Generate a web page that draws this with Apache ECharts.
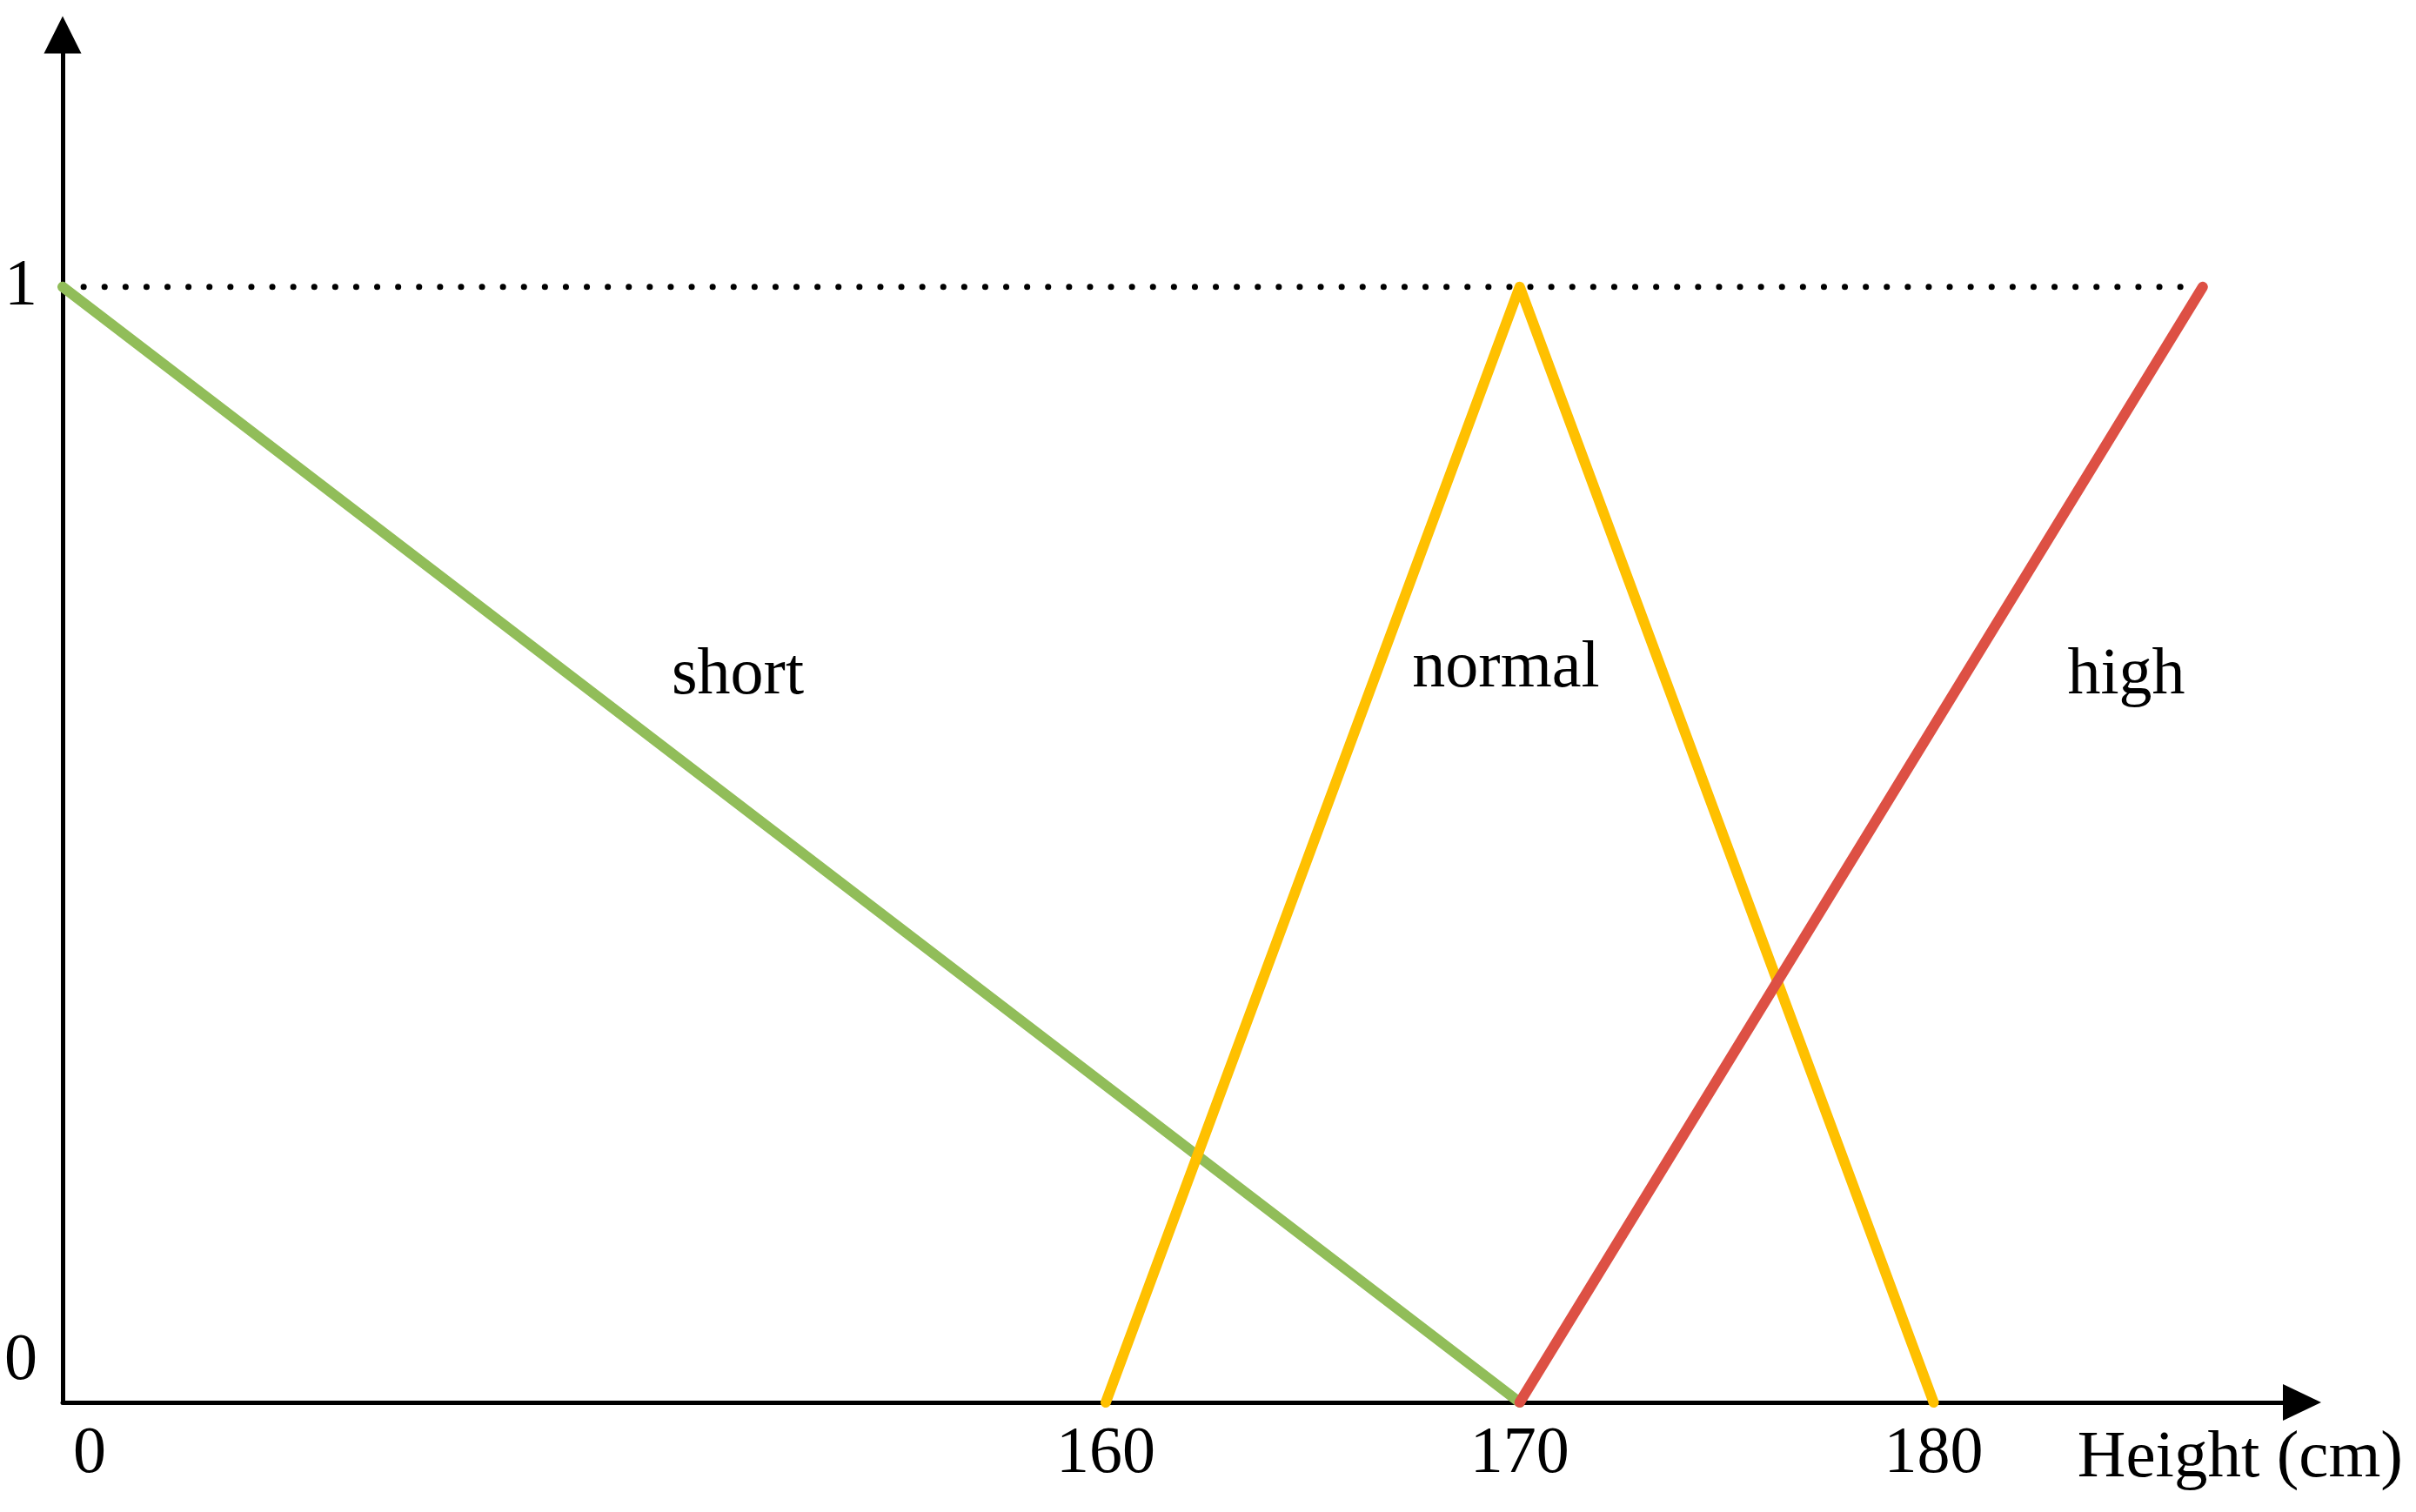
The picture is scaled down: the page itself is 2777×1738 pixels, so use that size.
<!DOCTYPE html>
<html>
<head>
<meta charset="utf-8">
<script src="https://cdn.jsdelivr.net/npm/echarts@6/dist/echarts.min.js"></script>
<style>
  html, body { margin: 0; padding: 0; background: #fff; }
  #chart { width: 2777px; height: 1738px; }
</style>
</head>
<body>
<div id="chart"></div>
<script>
// membership functions, height (cm) -> degree
const shortX = [0, 170];
const shortY = [1, 0];
const normalX = [160, 170, 180];
const normalY = [0, 1, 0];
const highX = [170, 186.5];
const highY = [0, 1];
// dotted guide at degree 1
const topX = [0, 186.5];
const topY = [1, 1];

const xTicks = [0, 160, 170, 180];
const yTicks = [0, 1];
const setNames = ['short', 'normal', 'high'];

const FONT = "'Liberation Serif', 'Times New Roman', serif";

function pairs(xs, ys) {
  return xs.map((x, i) => [x, ys[i]]);
}

let myChart = echarts.init(document.getElementById('chart'), null, { renderer: 'canvas' });

// label positions (pixels) for the set names
const namePos = [[848, 777], [1731, 769], [2444, 777]];

let option = {
  backgroundColor: '#fff',
  animation: false,
  grid: {
    left: 72,
    right: 131,
    top: 40,
    bottom: 126,
    outerBoundsMode: 'none'
  },
  xAxis: {
    type: 'value',
    min: 0,
    max: 188.9,
    // 0..160 is squeezed, like in the sketch
    breaks: [{ start: 2, end: 158, gap: 21.2 }],
    breakArea: { show: false },
    axisLine: {
      show: true,
      onZero: false,
      breakLine: false,
      symbol: ['none', 'triangle'],
      symbolSize: [42, 44],
      lineStyle: { color: '#000', width: 5 }
    },
    axisTick: { show: false },
    splitLine: { show: false },
    axisLabel: {
      customValues: xTicks,
      margin: 22,
      color: '#000',
      fontFamily: FONT,
      fontSize: 76,
      formatter: function (v) {
        // the 0 sits a bit right of the corner
        return v === 0 ? '{shift|0}' : String(v);
      },
      rich: {
        shift: { padding: [0, 0, 0, 62], fontFamily: FONT, fontSize: 76, color: '#000' }
      }
    },
    name: 'Height (cm)',
    nameLocation: 'end',
    nameGap: 116,
    nameTextStyle: {
      color: '#000',
      fontFamily: FONT,
      fontSize: 77,
      align: 'right',
      verticalAlign: 'top',
      padding: [26, 0, 0, 0]
    }
  },
  yAxis: {
    type: 'value',
    min: 0,
    max: 1.226,
    axisLine: {
      show: true,
      onZero: false,
      symbol: ['none', 'triangle'],
      symbolSize: [43, 43],
      lineStyle: { color: '#000', width: 5 }
    },
    axisTick: { show: false },
    splitLine: { show: false },
    axisLabel: {
      customValues: yTicks,
      margin: 29,
      color: '#000',
      fontFamily: FONT,
      fontSize: 76,
      formatter: function (v) {
        // 0 is lifted above the x axis
        return v === 0 ? '{lift|0}' : String(v);
      },
      rich: {
        lift: { padding: [0, 0, 94, 0], fontFamily: FONT, fontSize: 76, color: '#000' }
      }
    }
  },
  graphic: setNames.map(function (n, i) {
    return {
      type: 'text',
      x: namePos[i][0],
      y: namePos[i][1],
      style: {
        text: n,
        fill: '#000',
        font: '76px ' + FONT,
        align: 'center',
        verticalAlign: 'middle'
      }
    };
  }),
  series: [
    {
      name: 'top',
      type: 'line',
      symbol: 'none',
      silent: true,
      lineStyle: { color: '#000', width: 7, type: [0.1, 24], cap: 'round' },
      data: pairs(topX, topY)
    },
    {
      name: 'short',
      type: 'line',
      symbol: 'none',
      lineStyle: { color: '#91BD59', width: 12, cap: 'round' },
      data: pairs(shortX, shortY)
    },
    {
      name: 'normal',
      type: 'line',
      symbol: 'none',
      lineStyle: { color: '#FFC000', width: 12, cap: 'round', join: 'round' },
      data: pairs(normalX, normalY)
    },
    {
      name: 'high',
      type: 'line',
      symbol: 'none',
      lineStyle: { color: '#DD5044', width: 12, cap: 'round' },
      data: pairs(highX, highY)
    }
  ]
};

myChart.setOption(option);
</script>
</body>
</html>
